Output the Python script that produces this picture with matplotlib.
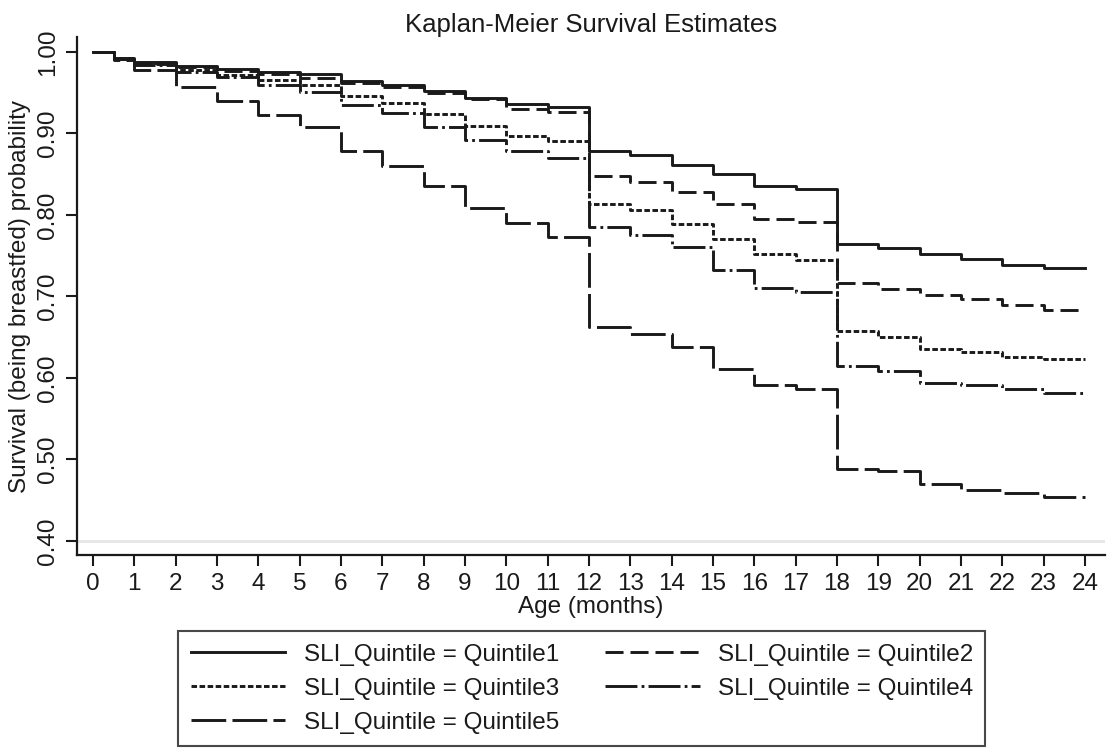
import matplotlib
matplotlib.use('Agg')
import matplotlib.pyplot as plt

# event times (months) where each step starts; last step runs to 24
months = [0, 0.5, 1, 2, 3, 4, 5, 6, 7, 8, 9, 10, 11, 12,
          13, 14, 15, 16, 17, 18, 19, 20, 21, 22, 23]
end_month = 24

quintile1 = [1.000, 0.993, 0.988, 0.983, 0.979, 0.976, 0.973, 0.964, 0.960, 0.952,
             0.943, 0.936, 0.933, 0.878, 0.874, 0.861, 0.850, 0.836, 0.832, 0.765,
             0.760, 0.752, 0.746, 0.739, 0.735]
quintile2 = [1.000, 0.992, 0.985, 0.981, 0.977, 0.973, 0.968, 0.962, 0.957, 0.950,
             0.942, 0.930, 0.926, 0.848, 0.841, 0.828, 0.813, 0.795, 0.791, 0.717,
             0.709, 0.702, 0.697, 0.689, 0.683]
quintile3 = [1.000, 0.993, 0.987, 0.978, 0.972, 0.966, 0.960, 0.946, 0.938, 0.924,
             0.909, 0.897, 0.891, 0.813, 0.806, 0.789, 0.771, 0.752, 0.745, 0.658,
             0.650, 0.636, 0.632, 0.626, 0.623]
quintile4 = [1.000, 0.992, 0.984, 0.975, 0.969, 0.959, 0.951, 0.935, 0.925, 0.908,
             0.892, 0.879, 0.870, 0.785, 0.775, 0.761, 0.733, 0.710, 0.706, 0.615,
             0.609, 0.594, 0.591, 0.586, 0.581]
quintile5 = [1.000, 0.990, 0.978, 0.957, 0.940, 0.923, 0.908, 0.879, 0.860, 0.835,
             0.809, 0.790, 0.773, 0.662, 0.654, 0.638, 0.611, 0.591, 0.587, 0.488,
             0.486, 0.470, 0.462, 0.459, 0.454]

labels = ['SLI_Quintile = Quintile1', 'SLI_Quintile = Quintile2',
          'SLI_Quintile = Quintile3', 'SLI_Quintile = Quintile4',
          'SLI_Quintile = Quintile5']
x_ticks = list(range(0, 25))
y_ticks = [0.40, 0.50, 0.60, 0.70, 0.80, 0.90, 1.00]

plt.rcParams['font.family'] = ['Liberation Sans', 'DejaVu Sans']
plt.rcParams['lines.scale_dashes'] = False

styles = [
    '-',
    (0, (13, 5)),
    (0, (4, 1.8)),
    (0, (23, 3, 2, 3)),
    (0, (25, 4.5)),
]


def main():
    fig = plt.figure(figsize=(11.14, 7.49), dpi=100)
    ax = fig.add_axes([0.0691, 0.259, 0.9229, 0.6916])

    ax.axhline(0.40, color='#e6e6e6', lw=2.0, zorder=0)

    series = [quintile1, quintile2, quintile3, quintile4, quintile5]
    handles = []
    for values, ls, lab in zip(series, styles, labels):
        h, = ax.step(months + [end_month], values + [values[-1]], where='post',
                     color='#1a1a1a', lw=2.1, linestyle=ls, label=lab)
        handles.append(h)

    ax.set_xlim(-0.387, 24.49)
    ax.set_ylim(0.3828, 1.0184)
    ax.set_xticks(x_ticks)
    ax.set_yticks(y_ticks)
    ax.set_yticklabels(['%.2f' % v for v in y_ticks], rotation=90, va='center')

    for side in ['top', 'right']:
        ax.spines[side].set_visible(False)
    for side in ['left', 'bottom']:
        ax.spines[side].set_linewidth(1.6)
        ax.spines[side].set_color('#1a1a1a')
    ax.tick_params(axis='both', length=8, width=1.5, labelsize=17.5,
                   color='#1a1a1a', labelcolor='#1a1a1a', pad=5)

    ax.set_title('Kaplan-Meier Survival Estimates', fontsize=18.5,
                 color='#1a1a1a', pad=3)
    ax.set_xlabel('Age (months)', fontsize=17.5, color='#1a1a1a', labelpad=1)
    ax.set_ylabel('Survival (being breastfed) probability', fontsize=17.5,
                  color='#1a1a1a', labelpad=4)

    # columns fill first: Q1, Q3, Q5 | Q2, Q4
    order = [0, 2, 4, 1, 3]
    leg = fig.legend([handles[i] for i in order], [labels[i] for i in order],
                     ncol=2, loc='lower center', bbox_to_anchor=(0.5224, 0.004),
                     fontsize=17.5, frameon=True, fancybox=False,
                     handlelength=3.9, handletextpad=0.75, columnspacing=1.9,
                     labelspacing=0.5, borderpad=0.5, borderaxespad=0)
    leg.get_frame().set_edgecolor('#1a1a1a')
    leg.get_frame().set_linewidth(1.5)
    for t in leg.get_texts():
        t.set_color('#1a1a1a')

    fig.savefig('out.png', dpi=100)


if __name__ == '__main__':
    main()
